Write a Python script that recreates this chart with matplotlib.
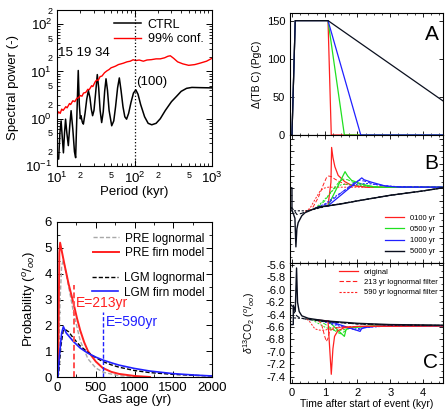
import numpy as np
import matplotlib
matplotlib.use('Agg')
import matplotlib.pyplot as plt
from matplotlib.ticker import LogLocator, FuncFormatter, MultipleLocator, NullFormatter

plt.rcParams['font.family'] = ['Liberation Sans', 'DejaVu Sans']
plt.rcParams['mathtext.fontset'] = 'custom'
plt.rcParams['mathtext.rm'] = 'Liberation Sans'
plt.rcParams['mathtext.it'] = 'Liberation Sans:italic'
plt.rcParams['xtick.direction'] = 'in'
plt.rcParams['ytick.direction'] = 'in'
plt.rcParams['xtick.top'] = True
plt.rcParams['ytick.right'] = True
plt.rcParams['axes.linewidth'] = 0.8

# ---- spectrum (top left) ----
ctrl_period = [10.0, 10.5, 10.9, 11.3, 11.7, 12.1, 12.5, 12.9, 13.4, 14.0, 14.6, 15.2, 16.0,
               16.8, 17.4, 18.0, 18.8, 19.4, 20.0, 20.4, 21.2, 21.9, 23.0, 24.2, 25.4, 26.6,
               27.7, 28.8, 30.0, 31.5, 33.1, 34.5, 36.0, 37.7, 39.5, 41.2, 42.9, 44.8, 47.0,
               50.8, 54.0, 57.0, 60.5, 63.7, 67.0, 71.0, 75.0, 79.0, 84.0, 90.0, 97.0, 104,
               111, 120, 135, 150, 167, 190, 215, 250, 300, 350, 400, 470, 550, 700, 1000]
ctrl_power = [0.15, 0.14, 0.5, 0.9, 0.4, 0.19, 0.5, 0.98, 0.5, 0.27, 0.7, 1.48, 0.6,
              0.2, 0.15, 1.0, 10.5, 2.0, 1.0, 1.16, 0.85, 0.77, 1.3, 2.6, 3.94, 2.8,
              1.6, 1.16, 1.5, 3.5, 8.6, 4.5, 1.5, 0.83, 1.4, 3.8, 7.0, 4.0, 1.5,
              0.71, 0.9, 1.8, 4.5, 7.3, 4.0, 1.8, 1.1, 0.98, 1.3, 2.2, 3.5, 4.08,
              3.3, 2.0, 1.1, 0.8, 0.745, 0.8, 1.0, 1.5, 2.3, 3.0, 3.8, 4.4, 4.6, 4.55, 4.5]
conf_period = [10, 10.5, 11, 11.5, 12, 13, 13.5, 14.5, 15, 16, 17, 18, 19, 20, 21, 22, 23.5,
               25, 26, 28, 29, 31, 32.5, 34, 36, 38, 41, 44, 47, 50, 53, 57, 62, 67, 72, 80,
               88, 96, 104, 115, 130, 145, 165, 190, 215, 245, 270, 290, 320, 360, 420, 500,
               600, 700, 850, 1000]
conf_power = [1.2, 1.4, 1.3, 1.6, 1.5, 1.8, 1.7, 2.1, 2.0, 2.4, 2.3, 2.7, 2.8, 3.1, 3.0, 3.5, 3.6,
              4.2, 4.1, 5.0, 4.8, 6.0, 6.6, 6.5, 7.8, 8.0, 9.4, 10.3, 11.0, 12.0, 12.4, 13.0, 14.0,
              14.5, 15.0, 16.0, 16.5, 17.7, 17.0, 17.5, 16.5, 17.5, 17.8, 18.5, 18.5, 19.5, 21.0,
              21.5, 19.0, 16.0, 14.5, 13.5, 14.0, 15.0, 16.5, 19.0]

# ---- age distributions (bottom left) ----
pre_logn_age = [0, 20, 40, 60, 80, 100, 150, 213, 300, 400, 500, 600, 800, 1000, 1200]
pre_logn_p = [0, 0.5, 3.0, 4.3, 4.5, 4.3, 3.5, 2.5, 1.4, 0.7, 0.35, 0.18, 0.05, 0.015, 0.0]
pre_firn_age = [0, 15, 30, 40, 60, 100, 150, 213, 260, 300, 350, 400, 500, 590, 700, 800, 1000, 1200]
pre_firn_p = [0, 0.3, 4.8, 5.2, 4.9, 4.3, 3.6, 2.85, 2.25, 1.8, 1.35, 1.0, 0.6, 0.35, 0.2, 0.12, 0.04, 0.0]
lgm_logn_age = [0, 20, 50, 80, 100, 150, 213, 300, 400, 500, 590, 700, 800, 1000, 1200, 1500, 1800, 2000]
lgm_logn_p = [0, 0.1, 1.2, 1.8, 1.85, 1.75, 1.5, 1.2, 0.95, 0.75, 0.6, 0.47, 0.38, 0.25, 0.17, 0.1, 0.06, 0.04]
lgm_firn_age = [0, 12, 30, 60, 82, 120, 213, 300, 400, 500, 590, 700, 800, 1000, 1200, 1500, 1800, 2000]
lgm_firn_p = [0, 0, 0.8, 1.7, 1.95, 1.7, 1.37, 1.12, 0.92, 0.77, 0.66, 0.55, 0.46, 0.33, 0.23, 0.13, 0.07, 0.04]
e_pre, e_lgm = 213, 590

# ---- panel A: terrestrial carbon change ----
a_red_t, a_red_v = [-0.06, 0.0, 0.1, 1.1, 1.2, 4.6], [0, 0, 150, 150, 0, 0]
a_grn_t, a_grn_v = [-0.06, 0.0, 0.1, 1.1, 1.6, 4.6], [0, 0, 150, 150, 0, 0]
a_blu_t, a_blu_v = [-0.06, 0.0, 0.1, 1.1, 2.1, 4.6], [0, 0, 150, 150, 0, 0]
a_blk_t, a_blk_v = [-0.06, 0.0, 0.1, 1.1, 4.6], [0, 0, 150, 150, 45]

# ---- panel B ----
b_blk_t = [-0.06, 0.0, 0.0, 0.05, 0.09, 0.12, 0.15, 0.19, 0.3, 0.4, 0.8, 1.1, 1.5, 2.0, 3.0, 4.0, 4.6]
b_blk_v = [-5.79, -5.79, -6.15, -6.22, -6.28, -6.74, -6.45, -6.35, -6.24, -6.19, -6.10, -6.08, -6.05,
           -6.00, -5.91, -5.84, -5.79]
b_blk_f1_t = [-0.06, 0.05, 0.15, 0.3, 0.6, 1.0, 2.0, 3.0, 4.0, 4.6]
b_blk_f1_v = [-6.10, -6.14, -6.22, -6.20, -6.14, -6.09, -6.0, -5.91, -5.84, -5.79]
b_blk_f2_t = [-0.06, 0.5, 0.8, 1.1, 2.0, 3.0, 4.0, 4.6]
b_blk_f2_v = [-6.16, -6.16, -6.12, -6.08, -6.0, -5.91, -5.84, -5.79]
b_red_t = [0.8, 1.1, 1.19, 1.21, 1.25, 1.31, 1.41, 1.61, 1.82, 2.3, 4.6]
b_red_v = [-6.10, -6.08, -5.70, -5.14, -5.30, -5.45, -5.59, -5.69, -5.75, -5.78, -5.78]
b_red_f1_t = [0.5, 0.6, 0.8, 0.95, 1.05, 1.12, 1.2, 1.31, 1.45, 1.61, 1.9, 2.3, 4.6]
b_red_f1_v = [-6.15, -6.14, -5.95, -5.75, -5.63, -5.60, -5.61, -5.65, -5.69, -5.73, -5.76, -5.78, -5.78]
b_red_f2_t = [0.4, 0.55, 0.7, 0.85, 0.95, 1.1, 1.5, 4.6]
b_red_f2_v = [-6.17, -6.12, -5.98, -5.85, -5.80, -5.78, -5.78, -5.78]
b_grn_t = [0.8, 1.1, 1.62, 1.7, 1.82, 2.13, 2.54, 4.6]
b_grn_v = [-6.10, -6.08, -5.53, -5.60, -5.67, -5.73, -5.78, -5.78]
b_grn_f1_t = [0.8, 1.0, 1.2, 1.4, 1.55, 1.7, 1.9, 2.3, 2.8, 4.6]
b_grn_f1_v = [-6.10, -6.0, -5.85, -5.72, -5.65, -5.66, -5.71, -5.76, -5.78, -5.78]
b_grn_f2_t = [0.7, 0.9, 1.1, 1.3, 1.5, 1.7, 2.0, 2.5, 4.6]
b_grn_f2_v = [-6.12, -6.03, -5.92, -5.80, -5.74, -5.73, -5.75, -5.78, -5.78]
b_blu_t = [0.8, 1.1, 2.13, 2.2, 2.43, 2.84, 3.3, 4.6]
b_blu_v = [-6.10, -6.08, -5.63, -5.66, -5.70, -5.76, -5.78, -5.78]
b_blu_f1_t = [0.8, 1.1, 1.5, 1.9, 2.05, 2.2, 2.5, 3.0, 4.6]
b_blu_f1_v = [-6.10, -6.04, -5.87, -5.71, -5.67, -5.68, -5.73, -5.77, -5.78]
b_blu_f2_t = [0.7, 1.0, 1.4, 1.8, 2.0, 2.3, 2.7, 3.2, 4.6]
b_blu_f2_v = [-6.12, -6.05, -5.90, -5.77, -5.73, -5.72, -5.75, -5.77, -5.78]

# ---- panel C: atmospheric d13CO2 ----
c_blk_t = [-0.06, 0.04, 0.04, 0.1, 0.14, 0.17, 0.22, 0.3, 0.5, 1.0, 2.0, 3.0, 4.6]
c_blk_v = [-6.56, -6.56, -6.25, -6.35, -5.65, -6.2, -6.35, -6.42, -6.46, -6.50, -6.54, -6.56, -6.57]
c_blk_f1_t = [-0.06, 0.0, 0.1, 0.2, 0.3, 0.5, 1.0, 2.0, 3.0, 4.6]
c_blk_f1_v = [-6.22, -6.26, -6.40, -6.44, -6.46, -6.48, -6.51, -6.55, -6.565, -6.575]
c_blk_f2_t = [-0.06, 0.3, 0.6, 1.0, 2.0, 3.0, 4.6]
c_blk_f2_v = [-6.45, -6.46, -6.48, -6.51, -6.55, -6.565, -6.575]
c_red_t = [0.8, 1.1, 1.2, 1.25, 1.3, 1.4, 1.6, 2.0, 4.6]
c_red_v = [-6.49, -6.50, -7.36, -6.95, -6.75, -6.66, -6.61, -6.59, -6.58]
c_red_f1_t = [0.8, 0.9, 1.0, 1.05, 1.1, 1.15, 1.3, 1.6, 2.0, 4.6]
c_red_f1_v = [-6.49, -6.55, -6.75, -6.83, -6.78, -6.66, -6.62, -6.60, -6.59, -6.58]
c_red_f2_t = [0.45, 0.55, 0.7, 0.85, 1.0, 1.15, 1.3, 1.6, 2.0, 4.6]
c_red_f2_v = [-6.47, -6.52, -6.63, -6.65, -6.65, -6.63, -6.61, -6.60, -6.59, -6.58]
c_grn_t = [0.8, 1.1, 1.6, 1.65, 1.75, 2.0, 2.5, 4.6]
c_grn_v = [-6.49, -6.50, -6.75, -6.64, -6.61, -6.60, -6.58, -6.58]
c_grn_f1_t = [0.8, 1.0, 1.2, 1.4, 1.5, 1.6, 1.75, 2.0, 2.5, 4.6]
c_grn_f1_v = [-6.49, -6.55, -6.62, -6.69, -6.71, -6.67, -6.62, -6.60, -6.59, -6.58]
c_grn_f2_t = [0.6, 0.8, 1.0, 1.2, 1.4, 1.6, 1.9, 2.3, 4.6]
c_grn_f2_v = [-6.48, -6.54, -6.60, -6.64, -6.66, -6.64, -6.61, -6.59, -6.58]
c_blu_t = [0.8, 1.1, 2.08, 2.12, 2.2, 2.5, 3.0, 4.6]
c_blu_v = [-6.49, -6.50, -6.67, -6.63, -6.61, -6.59, -6.58, -6.58]
c_blu_f1_t = [0.8, 1.1, 1.5, 1.9, 2.0, 2.1, 2.3, 2.7, 4.6]
c_blu_f1_v = [-6.49, -6.52, -6.58, -6.64, -6.65, -6.63, -6.60, -6.59, -6.58]
c_blu_f2_t = [0.7, 1.0, 1.4, 1.7, 1.9, 2.1, 2.4, 3.0, 4.6]
c_blu_f2_v = [-6.48, -6.52, -6.58, -6.62, -6.63, -6.62, -6.60, -6.585, -6.58]

RED, GRN, BLU, BLK = '#ff2020', '#20e020', '#2020ff', '#0a0f1e'
DASH1 = (0, (4, 2))
DASH2 = (0, (2, 1.5))

fig = plt.figure(figsize=(4.45, 4.12), dpi=100)
W, H = 445.0, 412.0


def box(x0, x1, y0, y1):
    return [x0 / W, 1 - y1 / H, (x1 - x0) / W, (y1 - y0) / H]


# ===== top left: spectrum =====
ax1 = fig.add_axes(box(57, 212, 10, 166))
ax1.plot(ctrl_period, ctrl_power, color='k', lw=1.1, label='CTRL')
ax1.plot(conf_period, conf_power, color='red', lw=1.0, label='99% conf.')
ax1.set_xscale('log')
ax1.set_yscale('log')
ax1.set_xlim(10, 1000)
ax1.set_ylim(0.1, 200)
ax1.axvline(100, color='k', ls=':', lw=0.9)


def minor_lab(v, pos):
    m = int(round(v / 10 ** np.floor(np.log10(v) + 1e-9)))
    return str(m) if m in (2, 5) else ''


for axis in (ax1.xaxis, ax1.yaxis):
    axis.set_major_locator(LogLocator(base=10, numticks=10))
    axis.set_minor_locator(LogLocator(base=10, subs=(2, 3, 4, 5, 6, 7, 8, 9), numticks=10))
    axis.set_minor_formatter(FuncFormatter(minor_lab))
ax1.tick_params(which='major', labelsize=9.5, length=4, width=0.7)
ax1.tick_params(which='minor', labelsize=6.5, length=2, width=0.6)
ax1.set_xlabel('Period (kyr)', fontsize=9.5, labelpad=0)
ax1.set_ylabel('Spectral power (-)', fontsize=9.5, labelpad=1)
ax1.text(10.3, 25, '15 19 34', fontsize=9.5, ha='left', va='center')
ax1.text(106, 6.1, '(100)', fontsize=9.5, ha='left', va='center')
ax1.legend(loc='upper right', fontsize=9, frameon=False, handlelength=2.2,
           borderaxespad=0.3, labelspacing=0.2, handletextpad=0.5)

# ===== bottom left: age distribution =====
ax2 = fig.add_axes(box(57, 212, 222, 377))
l1, = ax2.plot(pre_logn_age, pre_logn_p, color='#a8a8a8', ls=(0, (3, 1.5)), lw=1.0)
l2, = ax2.plot(pre_firn_age, pre_firn_p, color=RED, lw=1.4)
l3, = ax2.plot(lgm_logn_age, lgm_logn_p, color='k', ls=(0, (3, 1.5)), lw=1.0)
l4, = ax2.plot(lgm_firn_age, lgm_firn_p, color=BLU, lw=1.2)
ax2.plot([e_pre, e_pre], [0, 3.55], color='#ff5050', ls=(0, (3, 1.5)), lw=1.4)
ax2.plot([e_lgm, e_lgm], [0, 2.5], color=BLU, ls=(0, (3, 1.5)), lw=1.0)
ax2.text(245, 2.85, 'E=%dyr' % e_pre, color=RED, fontsize=10, va='center')
ax2.text(632, 2.14, 'E=%dyr' % e_lgm, color=BLU, fontsize=10, va='center')
ax2.set_xlim(0, 2000)
ax2.set_ylim(0, 6)
ax2.xaxis.set_major_locator(MultipleLocator(500))
ax2.yaxis.set_major_locator(MultipleLocator(1))
ax2.xaxis.set_minor_locator(MultipleLocator(250))
ax2.yaxis.set_minor_locator(MultipleLocator(0.5))
ax2.tick_params(which='major', labelsize=9.5, length=4, width=0.7)
ax2.tick_params(which='minor', length=2, width=0.6)
ax2.set_xlabel('Gas age (yr)', fontsize=9.5, labelpad=0)
ax2.set_ylabel('Probability ($^{o}$/$_{oo}$)', fontsize=9.5, labelpad=2)
leg_pre = ax2.legend([l1, l2], ['PRE lognormal', 'PRE firn model'], loc='upper right',
                     bbox_to_anchor=(1.02, 1.0), fontsize=8.5, frameon=False,
                     handlelength=2.2, labelspacing=0.2, handletextpad=0.5)
ax2.add_artist(leg_pre)
ax2.legend([l3, l4], ['LGM lognormal', 'LGM firn model'], loc='upper right',
           bbox_to_anchor=(1.02, 0.745), fontsize=8.5, frameon=False,
           handlelength=2.2, labelspacing=0.2, handletextpad=0.5)

# ===== right column =====
axA = fig.add_axes(box(290, 443, 13, 135))
axB = fig.add_axes(box(290, 443, 135, 263))
axC = fig.add_axes(box(290, 443, 263, 383))

axA.plot(a_red_t, a_red_v, color=RED, lw=0.9)
axA.plot(a_grn_t, a_grn_v, color=GRN, lw=0.9)
axA.plot(a_blu_t, a_blu_v, color=BLU, lw=0.9)
axA.plot(a_blk_t, a_blk_v, color=BLK, lw=0.9)
axA.set_ylim(0, 160)
axA.yaxis.set_major_locator(MultipleLocator(50))
axA.set_ylabel('Δ(TB C) (PgC)', fontsize=7.5, labelpad=2)

for col, (t0, v0), (t1, v1), (t2, v2), lab in [
        (RED, (b_red_t, b_red_v), (b_red_f1_t, b_red_f1_v), (b_red_f2_t, b_red_f2_v), '0100 yr'),
        (GRN, (b_grn_t, b_grn_v), (b_grn_f1_t, b_grn_f1_v), (b_grn_f2_t, b_grn_f2_v), '0500 yr'),
        (BLU, (b_blu_t, b_blu_v), (b_blu_f1_t, b_blu_f1_v), (b_blu_f2_t, b_blu_f2_v), '1000 yr')]:
    axB.plot(t2, v2, color=col, ls=DASH2, lw=0.7)
    axB.plot(t1, v1, color=col, ls=DASH1, lw=0.7)
    axB.plot(t0, v0, color=col, lw=0.9, label=lab)
axB.plot(b_blk_f2_t, b_blk_f2_v, color=BLK, ls=DASH2, lw=0.8)
axB.plot(b_blk_f1_t, b_blk_f1_v, color=BLK, ls=DASH1, lw=0.8)
axB.plot(b_blk_t, b_blk_v, color=BLK, lw=1.0, label='5000 yr')
axB.set_ylim(-7.0, -4.94)
axB.yaxis.set_major_locator(MultipleLocator(0.2))
axB.yaxis.set_minor_locator(MultipleLocator(0.1))
axB.yaxis.set_major_formatter(NullFormatter())
axB.legend(loc='lower right', fontsize=5.5, frameon=False, handlelength=2.5,
           labelspacing=0.5, borderaxespad=0.6)

for col, (t0, v0), (t1, v1), (t2, v2) in [
        (GRN, (c_grn_t, c_grn_v), (c_grn_f1_t, c_grn_f1_v), (c_grn_f2_t, c_grn_f2_v)),
        (BLU, (c_blu_t, c_blu_v), (c_blu_f1_t, c_blu_f1_v), (c_blu_f2_t, c_blu_f2_v)),
        (RED, (c_red_t, c_red_v), (c_red_f1_t, c_red_f1_v), (c_red_f2_t, c_red_f2_v))]:
    axC.plot(t2, v2, color=col, ls=DASH2, lw=0.7)
    axC.plot(t1, v1, color=col, ls=DASH1, lw=0.7)
    axC.plot(t0, v0, color=col, lw=0.9)
axC.plot(c_blk_f2_t, c_blk_f2_v, color=BLK, ls=DASH2, lw=0.8)
axC.plot(c_blk_f1_t, c_blk_f1_v, color=BLK, ls=DASH1, lw=0.8)
axC.plot(c_blk_t, c_blk_v, color=BLK, lw=1.0)
axC.set_ylim(-7.5, -5.57)
axC.yaxis.set_major_locator(MultipleLocator(0.2))
axC.yaxis.set_minor_locator(MultipleLocator(0.1))
axC.yaxis.set_major_formatter(FuncFormatter(lambda v, p: '%.1f' % v))
axC.set_ylabel('$\\delta^{13}$CO$_2$ ($^{o}$/$_{oo}$)', fontsize=7.5, labelpad=2)
axC.set_xlabel('Time after start of event (kyr)', fontsize=7.5, labelpad=1)
hC = [plt.Line2D([], [], color=RED, lw=0.9),
      plt.Line2D([], [], color=RED, ls=DASH1, lw=0.8),
      plt.Line2D([], [], color=RED, ls=DASH2, lw=0.8)]
axC.legend(hC, ['original', '213 yr lognormal filter', '590 yr lognormal filter'],
           loc='upper right', fontsize=5.5, frameon=False, handlelength=2.5,
           labelspacing=0.4, borderaxespad=0.3)

for ax, letter, ly in [(axA, 'A', 0.82), (axB, 'B', 0.78), (axC, 'C', 0.17)]:
    ax.set_xlim(-0.06, 4.61)
    ax.xaxis.set_major_locator(MultipleLocator(1))
    ax.xaxis.set_minor_locator(MultipleLocator(0.25))
    ax.tick_params(which='major', labelsize=8, length=3, width=0.6)
    ax.tick_params(which='minor', length=1.5, width=0.5)
    ax.text(0.97, ly, letter, transform=ax.transAxes, fontsize=15, ha='right', va='center')
    if ax is not axC:
        ax.xaxis.set_major_formatter(NullFormatter())

# label positions (right edge of rotated label)
ax1.yaxis.set_label_coords(-0.245, 0.5)
ax2.yaxis.set_label_coords(-0.125, 0.5)
axA.yaxis.set_label_coords(-0.18, 0.5)
axC.yaxis.set_label_coords(-0.215, 0.5)

fig.savefig('out.png', dpi=100)
